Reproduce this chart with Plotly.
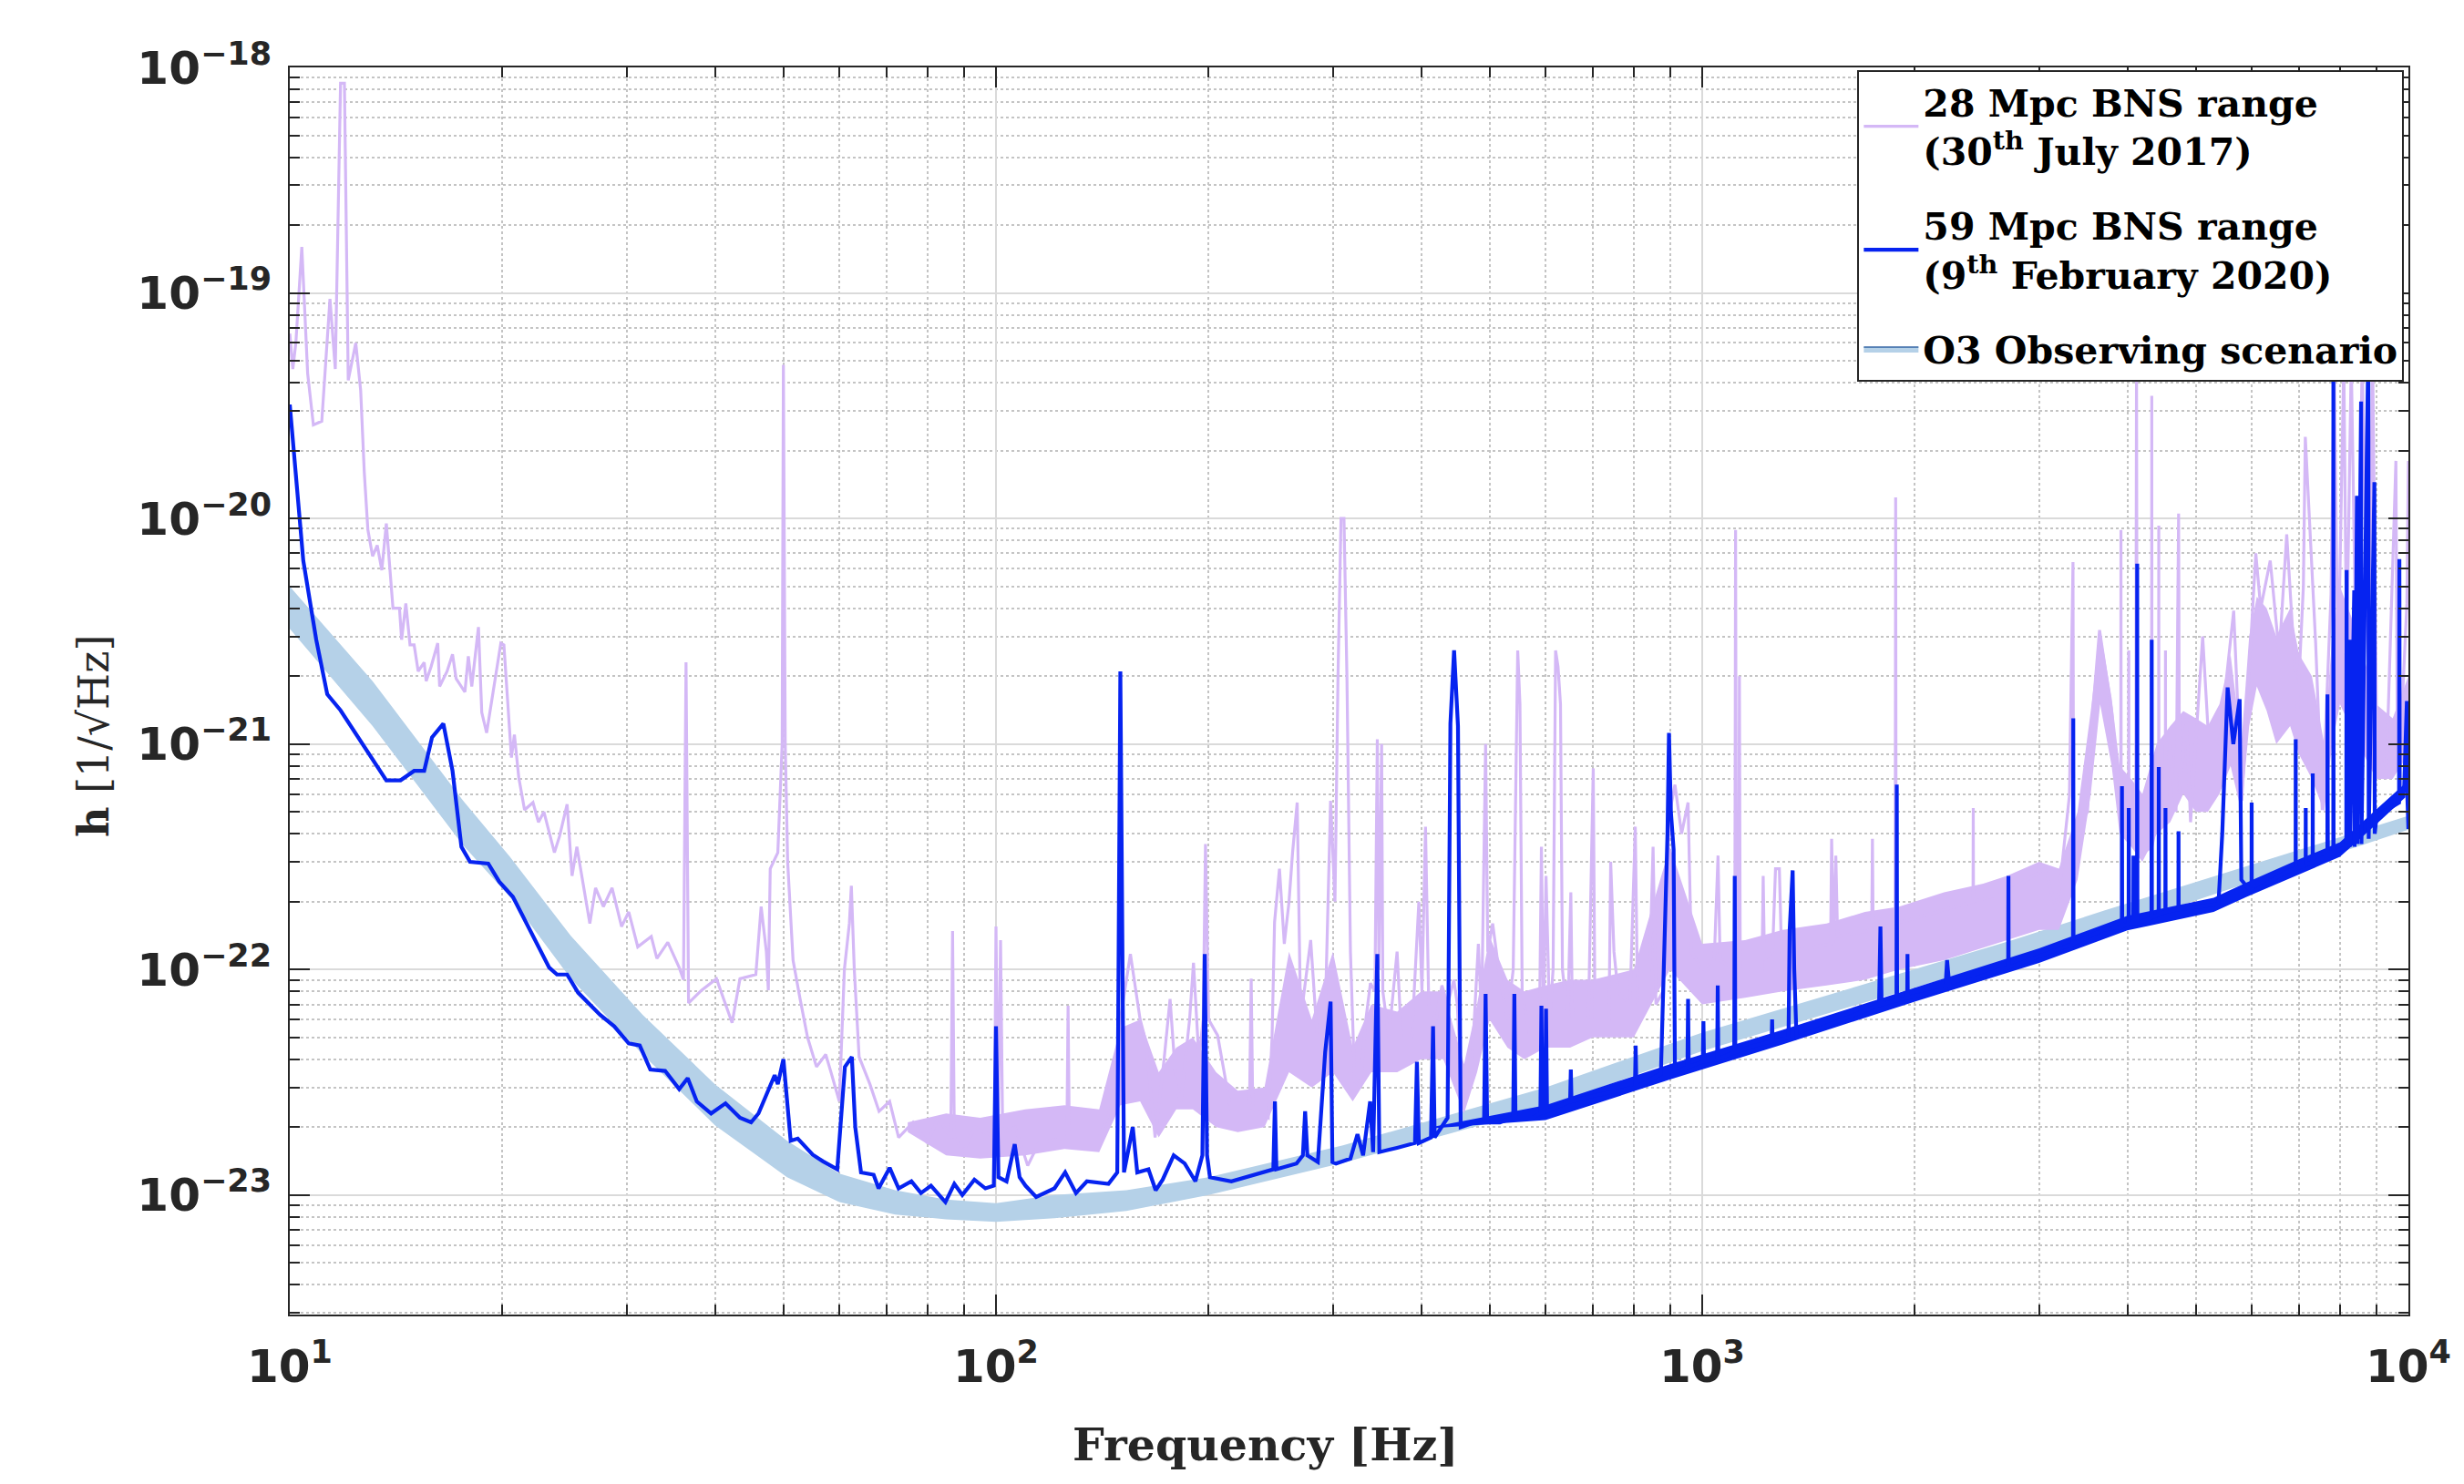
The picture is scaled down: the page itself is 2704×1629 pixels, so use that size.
import plotly.graph_objects as go

# ---------------- data ----------------
# O3 observing scenario band (frequency [Hz], upper / lower edge)
band_f = [10, 13.1, 17.6, 20.5, 25, 31.6, 40, 50.6, 60, 72, 85, 100, 121, 153, 200, 310, 600, 1000, 2750, 3700, 10000]
band_hi = [5.0e-21, 1.9e-21, 5.6e-22, 3.16e-22, 1.41e-22, 6.3e-23, 3.1e-23, 1.74e-23, 1.245e-23, 1.05e-23, 9.55e-24,
           9.2e-24, 1.0e-23, 1.05e-23, 1.2e-23, 1.66e-23, 3.0e-23, 5.25e-23, 1.35e-22, 1.82e-22, 4.8e-22]
band_lo = [3.24e-21, 1.2e-21, 3.55e-22, 2.1e-22, 9.1e-23, 4.2e-23, 2.04e-23, 1.2e-23, 9.3e-24, 8.2e-24, 7.8e-24,
           7.6e-24, 7.9e-24, 8.5e-24, 1.0e-23, 1.39e-23, 2.45e-23, 4.35e-23, 1.12e-22, 1.48e-22, 4.17e-22]

# 59 Mpc BNS range (9th February 2020)
blue_f = [10, 10.45, 10.9, 11.3, 11.8, 12.7, 13.7, 14.35, 15.0, 15.5, 15.9, 16.5, 17.0, 17.5, 18.0, 19.1, 19.8, 20.7,
          22.0, 23.3, 23.9, 24.7, 25.6, 27.5, 28.8, 30.2, 31.3, 32.4, 34.0, 35.6, 36.6, 37.7, 39.5, 41.4, 43.4, 45.0,
          46.1, 47.7, 48.6, 49.1, 50.0, 51.2, 52.4, 55.0, 56.9, 59.6, 61.1, 62.5, 63.2, 64.4, 67.1, 68.2, 70.7, 72.8,
          75.9, 78.3, 80.9, 84.8, 87.3, 89.6, 93.2, 96.6, 99.3, 100.0, 100.8, 103.5, 106.3, 108, 110.1, 114, 121,
          125.3, 129.8, 134.5, 144.3, 148.5, 149.4, 150.0, 150.7, 151.8, 156.2, 158.5, 164.4, 168.3, 172.2, 178.5,
          185, 191.6, 196, 197.5, 199, 200.9, 215.4, 231.2, 247, 248.3, 249.5, 266.4, 272, 274, 276, 285.6, 292.5,
          297.7, 299.5, 303, 317.6, 325, 331, 338.7, 342, 346.7, 349, 369.8, 392, 394.5, 397, 413, 415.8, 418, 436,
          440, 445.3, 451, 455, 476.6, 491, 493.5, 496, 517, 540, 542, 544, 575, 590, 592, 594, 599, 601, 603, 650,
          651.6, 653, 699.5, 803, 805, 807, 874, 884.6, 893, 897.3, 903, 911, 915, 953, 955, 957, 1002, 1004, 1006,
          1050, 1052, 1054, 1110, 1112, 1114, 1186, 1254, 1256, 1258, 1325, 1330, 1343, 1350, 1360, 1380, 1687,
          1780, 1788, 1795, 1884, 1886, 1888, 1951, 1953, 1955, 2210, 2222, 2240, 2636, 2712, 2714, 2716, 3350,
          3353, 3356, 3697, 3928, 3930, 3933, 4016, 4018, 4021, 4078, 4080, 4082, 4128, 4130, 4133, 4327, 4330,
          4333, 4429, 4431, 4433, 4527, 4529, 4531, 4724, 4726, 4728, 5383, 5450, 5546, 5650, 5768, 5800, 5996,
          5998, 6000, 6697, 6923, 6925, 6927, 7153, 7155, 7157, 7318, 7320, 7322, 7395, 7678, 7680, 7690, 7828,
          7830, 7835, 8166, 8175, 8185, 8255, 8265, 8380, 8390, 8455, 8465, 8570, 8580, 8775, 8785, 8950, 8960,
          9017, 9700, 9710, 9720, 9858, 9950, 9960, 10000]
blue_h = [3.2e-20, 6.5e-21, 2.9e-21, 1.66e-21, 1.41e-21, 1.0e-21, 6.9e-22, 6.9e-22, 7.6e-22, 7.6e-22, 1.07e-21,
          1.23e-21, 7.6e-22, 3.5e-22, 3.0e-22, 2.95e-22, 2.45e-22, 2.1e-22, 1.45e-22, 1.02e-22, 9.5e-23, 9.5e-23,
          7.9e-23, 6.3e-23, 5.6e-23, 4.7e-23, 4.6e-23, 3.6e-23, 3.55e-23, 2.95e-23, 3.3e-23, 2.6e-23, 2.3e-23,
          2.55e-23, 2.2e-23, 2.1e-23, 2.3e-23, 2.95e-23, 3.4e-23, 3.1e-23, 4.0e-23, 1.74e-23, 1.78e-23, 1.51e-23,
          1.41e-23, 1.3e-23, 3.7e-23, 4.1e-23, 2.0e-23, 1.26e-23, 1.23e-23, 1.07e-23, 1.32e-23, 1.07e-23, 1.15e-23,
          1.02e-23, 1.1e-23, 9.3e-24, 1.12e-23, 1.0e-23, 1.17e-23, 1.07e-23, 1.1e-23, 5.6e-23, 1.2e-23, 1.15e-23,
          1.68e-23, 1.2e-23, 1.1e-23, 9.8e-24, 1.07e-23, 1.26e-23, 1.02e-23, 1.15e-23, 1.12e-23, 1.26e-23, 3.0e-22,
          2.1e-21, 3.0e-22, 1.26e-23, 2.0e-23, 1.26e-23, 1.3e-23, 1.05e-23, 1.17e-23, 1.5e-23, 1.38e-23, 1.15e-23,
          1.5e-23, 1.17e-22, 1.5e-23, 1.2e-23, 1.15e-23, 1.23e-23, 1.3e-23, 2.6e-23, 1.3e-23, 1.38e-23, 1.5e-23,
          2.35e-23, 1.5e-23, 1.4e-23, 4.3e-23, 7.2e-23, 1.4e-23, 1.38e-23, 1.45e-23, 1.86e-23, 1.5e-23, 2.6e-23,
          1.55e-23, 1.17e-22, 1.55e-23, 1.62e-23, 1.7e-23, 3.9e-23, 1.7e-23, 1.8e-23, 5.6e-23, 1.8e-23, 2.2e-23,
          1.23e-21, 2.6e-21, 1.2e-21, 2.0e-23, 2.1e-23, 2.1e-23, 7.8e-23, 2.1e-23, 2.1e-23, 2.2e-23, 7.8e-23,
          2.2e-23, 2.2e-23, 2.3e-23, 6.9e-23, 2.3e-23, 2.35e-23, 6.7e-23, 2.35e-23, 2.6e-23, 3.6e-23, 2.6e-23,
          2.75e-23, 3.0e-23, 4.6e-23, 3.0e-23, 3.45e-23, 1.4e-22, 4e-22, 1.12e-21, 5e-22, 3.4e-22, 3.5e-23, 3.7e-23,
          7.4e-23, 3.7e-23, 3.9e-23, 5.9e-23, 3.9e-23, 4.0e-23, 8.5e-23, 4.0e-23, 4.3e-23, 2.6e-22, 4.3e-23,
          4.6e-23, 4.8e-23, 6.0e-23, 4.8e-23, 5.0e-23, 1.5e-22, 2.75e-22, 1.0e-22, 5.0e-23, 5.1e-23, 6.5e-23,
          7.0e-23, 1.55e-22, 7.0e-23, 7.3e-23, 6.6e-22, 7.3e-23, 7.5e-23, 1.17e-22, 7.5e-23, 8.2e-23, 1.1e-22,
          8.3e-23, 1.0e-22, 1.02e-22, 2.6e-22, 1.02e-22, 1.3e-22, 1.3e-21, 1.3e-22, 1.5e-22, 1.55e-22, 6.5e-22,
          1.55e-22, 1.6e-22, 5.2e-22, 1.6e-22, 1.6e-22, 3.2e-22, 1.6e-22, 1.6e-22, 6.3e-21, 1.6e-22, 1.7e-22,
          2.9e-21, 1.7e-22, 1.75e-22, 7.9e-22, 1.75e-22, 1.8e-22, 5.2e-22, 1.8e-22, 1.85e-22, 4.1e-22, 1.85e-22,
          1.95e-22, 4e-22, 1.78e-21, 1.0e-21, 1.58e-21, 2.5e-22, 2.2e-22, 5.5e-22, 2.2e-22, 2.7e-22, 2.8e-22,
          1.05e-21, 2.8e-22, 2.9e-22, 5.2e-22, 2.9e-22, 3.0e-22, 7.4e-22, 3.0e-22, 3.2e-22, 3.3e-22, 1.66e-21,
          3.3e-22, 3.3e-22, 6e-20, 3.3e-22, 3.5e-22, 5.9e-21, 3.5e-22, 2.9e-21, 3.5e-22, 4.8e-21, 3.5e-22, 1.26e-20,
          3.6e-22, 3.3e-20, 3.6e-22, 6e-20, 3.8e-22, 1.45e-20, 4.0e-22, 4.8e-22, 5.5e-22, 6.6e-21, 5.8e-22, 6.2e-22,
          1.55e-21, 6.2e-22, 4.2e-22]

# spread (noise thickness) of the 2020 curve above 420 Hz
bfz_f = [420, 600, 900, 1300, 2000, 3000, 4000, 5300, 5900, 7000, 8000, 9000, 9900]
bfz_lo = [1.98e-23, 2.15e-23, 3.25e-23, 4.65e-23, 7.2e-23, 1.07e-22, 1.49e-22, 1.8e-22, 2.1e-22, 2.65e-22, 3.16e-22,
          4.4e-22, 5.8e-22]
bfz_hi = [2.02e-23, 2.5e-23, 3.8e-23, 5.4e-23, 8.3e-23, 1.24e-22, 1.73e-22, 2.08e-22, 2.43e-22, 3.08e-22, 3.67e-22,
          5.1e-22, 6.7e-22]

# 28 Mpc BNS range (30th July 2017)
purple_f = [10.0, 10.1, 10.2, 10.4, 10.6, 10.8, 11.1, 11.4, 11.6, 11.8, 11.95, 12.1, 12.4, 12.6, 12.75, 12.9, 13.1,
            13.3, 13.5, 13.7, 14.0, 14.3, 14.4, 14.6, 14.8, 15.0, 15.2, 15.5, 15.6, 15.85, 16.2, 16.3, 16.7, 17.0,
            17.2, 17.7, 17.9, 18.1, 18.5, 18.7, 19.0, 19.4, 19.9, 20.1, 20.6, 20.8, 21.1, 21.5, 22.1, 22.5, 22.9,
            23.7, 24.1, 24.7, 25.1, 25.5, 25.9, 26.6, 27.1, 27.8, 28.6, 29.5, 30.2, 31.1, 32.5, 33.1, 34.3, 35.6,
            36.1, 36.4, 36.7, 38.3, 40.2, 42.3, 43.4, 45.7, 46.5, 47.3, 47.6, 47.9, 49.1, 49.8, 50.0, 50.3, 50.7,
            51.6, 52.8, 54.1, 55.7, 57.4, 58.4, 60.0, 61.0, 62.0, 62.4, 63.0, 64.0, 66.3, 68.3, 70.7, 72.8, 76.3,
            80.0, 82.8, 86.3, 86.8, 87.3, 90, 93.2, 99.5, 100, 100.7, 101.5, 102.2, 106.5, 110.9, 115, 126, 126.5,
            127, 140, 146, 150, 155, 160, 163, 168, 173, 176.4, 180, 182.7, 188, 190.4, 193.8, 196.5, 198, 200, 206,
            215, 228.5, 229.8, 231, 243, 246, 248, 252, 256, 260, 263, 267, 270, 279, 285, 292, 297.7, 302, 305,
            308, 311, 314, 317.6, 322, 328, 334, 339, 344, 346.7, 348.5, 351.6, 353, 360, 369.8, 375, 388, 397, 401,
            405.7, 410, 420, 428, 436, 445, 450, 456, 470, 482, 487, 493.5, 497, 505, 515, 530, 540, 548, 552, 556,
            570, 588, 592, 596, 601, 608, 615, 620, 625, 630, 634, 645, 651.6, 655, 690, 701, 705, 738, 742, 750,
            760, 790, 804, 810, 840, 852, 860, 880, 890, 900, 915, 935, 955, 965, 1000, 1040, 1053, 1060, 1112,
            1115, 1118, 1126, 1129, 1132, 1215, 1220, 1225, 1258, 1270, 1286, 1295, 1330, 1520, 1525, 1535, 1546,
            1555, 1738, 1742, 1746, 1876, 1879, 1882, 2418, 2420, 2422, 2700, 3058, 3180, 3311, 3350, 3356, 3512,
            3580, 3653, 3800, 3915, 3917, 3920, 4016, 4018, 4020, 4110, 4121, 4130, 4170, 4328, 4331, 4334, 4429,
            4431, 4433, 4527, 4529, 4531, 4596, 4688, 4727, 4740, 4850, 4915, 5113, 5200, 5400, 5657, 5808, 5998,
            6080, 6178, 6373, 6563, 6725, 6966, 7100, 7145, 7390, 7550, 7770, 7850, 7950, 8100, 8175, 8300, 8450,
            8600, 8775, 8900, 9020, 9300, 9600, 9650, 9780, 9950, 10000]
purple_h = [6.6e-20, 4.6e-20, 6.0e-20, 1.6e-19, 4.4e-20, 2.6e-20, 2.7e-20, 9.4e-20, 4.6e-20, 8.5e-19, 8.5e-19,
            4.1e-20, 6.0e-20, 3.7e-20, 1.6e-20, 8.9e-21, 6.8e-21, 7.6e-21, 5.9e-21, 9.5e-21, 4.0e-21, 4.0e-21,
            2.9e-21, 4.2e-21, 2.75e-21, 2.75e-21, 2.1e-21, 2.3e-21, 1.9e-21, 2.2e-21, 2.8e-21, 1.8e-21, 2.1e-21,
            2.5e-21, 1.95e-21, 1.7e-21, 2.45e-21, 1.8e-21, 3.3e-21, 1.38e-21, 1.12e-21, 1.7e-21, 2.8e-21, 2.75e-21,
            8.7e-22, 1.1e-21, 7.1e-22, 5.1e-22, 5.5e-22, 4.5e-22, 5.0e-22, 3.3e-22, 3.9e-22, 5.4e-22, 2.6e-22,
            3.5e-22, 2.6e-22, 1.6e-22, 2.3e-22, 1.9e-22, 2.3e-22, 1.55e-22, 1.8e-22, 1.26e-22, 1.4e-22, 1.12e-22,
            1.32e-22, 1.02e-22, 9e-23, 2.3e-21, 7.1e-23, 8.1e-23, 9.1e-23, 5.8e-23, 9.1e-23, 9.5e-23, 1.9e-22,
            1.2e-22, 8.1e-23, 2.8e-22, 3.3e-22, 1.0e-21, 4.8e-20, 1.0e-21, 3.0e-22, 1.1e-22, 7.4e-23, 5.0e-23,
            3.7e-23, 4.2e-23, 3.5e-23, 2.6e-23, 1.0e-22, 1.6e-22, 2.35e-22, 1.0e-22, 4.1e-23, 3.1e-23, 2.35e-23,
            2.6e-23, 1.8e-23, 2.1e-23, 1.7e-23, 2.2e-23, 1.8e-23, 1.48e-22, 1.8e-23, 1.55e-23, 2.0e-23, 1.8e-23,
            1.55e-22, 1.9e-23, 1.35e-22, 1.9e-23, 2.0e-23, 1.35e-23, 1.7e-23, 1.8e-23, 6.9e-23, 1.8e-23, 1.8e-23,
            2.5e-23, 6e-23, 1.17e-22, 6e-23, 4.8e-23, 1.8e-23, 4e-23, 7.4e-23, 3e-23, 2.6e-23, 6e-23, 1.07e-22,
            4e-23, 6e-23, 3.6e-22, 6e-23, 5.1e-23, 2.4e-23, 2.4e-23, 9.1e-23, 2.4e-23, 2.2e-23, 5e-23, 1.62e-22,
            2.8e-22, 1.3e-22, 2e-22, 3.3e-22, 5.5e-22, 6e-23, 1.35e-22, 5e-23, 5e-23, 5.6e-22, 2e-22, 2e-21, 1e-20,
            1e-20, 2e-21, 1.2e-22, 3.2e-23, 3.0e-23, 6e-23, 8.7e-23, 8e-23, 1.05e-21, 1e-22, 1.0e-21, 8e-23, 5e-23,
            1.2e-22, 5e-23, 5e-23, 2.0e-22, 8e-23, 4.3e-22, 7e-23, 6e-23, 8.5e-23, 7e-23, 9e-23, 7e-23, 3e-23,
            3e-23, 1.3e-22, 6e-23, 1.0e-21, 1.2e-22, 1.6e-22, 1.0e-22, 6e-23, 1e-22, 2.6e-21, 1.5e-21, 8e-23,
            5e-23, 5e-23, 3.5e-22, 6e-23, 2.6e-22, 6e-23, 1.0e-22, 2.6e-21, 2.2e-21, 1.5e-21, 1.0e-22, 6e-23,
            2.2e-22, 6e-23, 6e-23, 7.8e-22, 6e-23, 6e-23, 3e-22, 1.2e-22, 8e-23, 7e-23, 4.3e-22, 7e-23, 7e-23,
            3.5e-22, 7e-23, 8e-23, 2.5e-22, 5e-22, 6.6e-22, 4e-22, 5.5e-22, 1.2e-22, 1.0e-22, 1.1e-22, 3.2e-22,
            1.1e-22, 1.0e-22, 8.9e-21, 1.0e-22, 1.0e-22, 2.0e-21, 1.0e-22, 1.0e-22, 2.6e-22, 1.1e-22, 1.2e-22,
            2.8e-22, 2.8e-22, 1.2e-22, 1.2e-22, 1.3e-22, 3.8e-22, 1.3e-22, 3.2e-22, 1.4e-22, 1.5e-22, 3.8e-22,
            1.5e-22, 1.6e-22, 1.24e-20, 1.6e-22, 2.0e-22, 5.2e-22, 2.0e-22, 2.2e-22, 2.8e-22, 1.8e-22, 5.9e-22,
            6.4e-21, 4e-22, 5e-22, 1.5e-21, 3.2e-21, 1.4e-21, 4.8e-22, 8.9e-21, 4.8e-22, 4.5e-22, 2.6e-21, 4.5e-22,
            4.5e-22, 5e-20, 4e-22, 3.2e-22, 3.5e-22, 3.5e-20, 3.5e-22, 5e-22, 9.3e-21, 5e-22, 5e-22, 2.6e-21, 5e-22,
            1.0e-21, 5e-22, 1.05e-20, 6e-22, 1.3e-21, 4.5e-22, 3.0e-21, 1.2e-21, 1.0e-21, 3.9e-21, 5.6e-22, 3.5e-21,
            7e-21, 4e-21, 6.5e-21, 2.5e-21, 8.5e-21, 1.4e-21, 5e-21, 2.3e-20, 2.8e-21, 5.1e-22, 4.6e-21, 5e-20,
            2e-21, 5e-20, 2.5e-21, 5e-20, 1.5e-21, 5e-20, 2e-21, 5e-20, 1.0e-21, 7e-22, 1.8e-20, 8e-22, 1.3e-21,
            4.2e-21, 1.8e-20]

# spread (noise thickness) of the 2017 curve above 75 Hz
pfz_f = [75, 85, 95, 110, 125, 140, 150, 160, 170, 180, 190, 205, 220, 240, 260, 280, 300, 320, 340, 370, 400, 430,
         460, 480, 500, 530, 560, 600, 650, 700, 800, 900, 1000, 1150, 1300, 1500, 1700, 1900, 2200, 2500, 2700,
         3000, 3200, 3400, 3550, 3660, 3800, 3900, 4050, 4200, 4400, 4600, 4800, 5000, 5200, 5400, 5600, 5800,
         5950, 6100, 6300, 6500, 6800, 7000, 7300, 7600, 7800, 8000, 8500, 9000, 9500, 10000]
pfz_lo = [1.9e-23, 1.5e-23, 1.45e-23, 1.5e-23, 1.6e-23, 1.55e-23, 2.5e-23, 2.6e-23, 1.8e-23, 2.4e-23, 2.4e-23,
          2.0e-23, 1.9e-23, 2.0e-23, 3.5e-23, 3.0e-23, 3.5e-23, 2.6e-23, 3.5e-23, 3.5e-23, 4e-23, 4e-23, 2.3e-23,
          3.5e-23, 6e-23, 4.5e-23, 4.0e-23, 4.5e-23, 4.5e-23, 5e-23, 5e-23, 1.0e-22, 7e-23, 7.5e-23, 8e-23, 8.5e-23,
          9e-23, 1.0e-22, 1.1e-22, 1.25e-22, 1.35e-22, 1.5e-22, 1.5e-22, 2.5e-22, 6e-22, 1.5e-21, 8e-22, 4e-22,
          3.5e-22, 3e-22, 4e-22, 4.5e-22, 6e-22, 5e-22, 5e-22, 6e-22, 8e-22, 5e-22, 1.2e-21, 1.8e-21, 1.4e-21,
          1.0e-21, 1.2e-21, 9e-22, 7e-22, 5e-22, 1.0e-21, 1.5e-21, 1.0e-21, 7e-22, 7e-22, 9e-22]
pfz_hi = [2.1e-23, 2.3e-23, 2.2e-23, 2.4e-23, 2.5e-23, 2.4e-23, 5.5e-23, 6e-23, 3.5e-23, 4.5e-23, 5e-23, 3.5e-23,
          2.9e-23, 3.0e-23, 1.2e-22, 6e-23, 1.2e-22, 4.5e-23, 7e-23, 6.5e-23, 8e-23, 8e-23, 3.8e-23, 7e-23, 1.4e-22,
          9e-23, 8e-23, 8.5e-23, 9e-23, 9e-23, 1.0e-22, 3.5e-22, 1.3e-22, 1.35e-22, 1.5e-22, 1.6e-22, 1.8e-22,
          1.9e-22, 2.2e-22, 2.4e-22, 2.6e-22, 3.0e-22, 2.8e-22, 5e-22, 1.4e-21, 3.2e-21, 1.6e-21, 8e-22, 7e-22,
          6e-22, 1.0e-21, 1.2e-21, 1.4e-21, 1.3e-21, 1.2e-21, 1.5e-21, 2.5e-21, 1.0e-21, 3e-21, 4.5e-21, 4e-21,
          3e-21, 4e-21, 2.5e-21, 2e-21, 1e-21, 3e-21, 5e-21, 3e-21, 1.5e-21, 1.3e-21, 2e-21]

series_names = ["28 Mpc BNS range<br>(30<sup>th</sup> July 2017)",
                "59 Mpc BNS range<br>(9<sup>th</sup> February 2020)",
                "O3 Observing scenario"]

# ---------------- styling ----------------
PURPLE = "#d4b8f6"
BLUE = "#0623f0"
BAND = "#b5d1e8"
INK = "#262626"

fig = go.Figure()

fig.add_trace(go.Scatter(x=band_f + band_f[::-1], y=band_hi + band_lo[::-1], fill="toself",
                         fillcolor=BAND, line=dict(width=0), mode="lines", showlegend=False,
                         hoverinfo="skip"))
fig.add_trace(go.Scatter(x=pfz_f + pfz_f[::-1], y=pfz_hi + pfz_lo[::-1], fill="toself",
                         fillcolor=PURPLE, line=dict(width=0), mode="lines", showlegend=False,
                         hoverinfo="skip"))
fig.add_trace(go.Scatter(x=purple_f, y=purple_h, mode="lines", name=series_names[0],
                         line=dict(color=PURPLE, width=3.2), legendgroup="a", legendrank=1))
fig.add_trace(go.Scatter(x=bfz_f + bfz_f[::-1], y=bfz_hi + bfz_lo[::-1], fill="toself",
                         fillcolor=BLUE, line=dict(width=0), mode="lines", showlegend=False,
                         hoverinfo="skip"))
fig.add_trace(go.Scatter(x=blue_f, y=blue_h, mode="lines", name=series_names[1],
                         line=dict(color=BLUE, width=4.2), legendgroup="b", legendrank=2))
fig.add_trace(go.Scatter(x=[None], y=[None], mode="lines", fill="toself", fillcolor=BAND,
                         line=dict(color="#3465a4", width=1.5), name=series_names[2],
                         legendgroup="c", legendrank=3))

axis_common = dict(
    type="log", tickmode="linear", tick0=0, dtick=1,
    exponentformat="power", showexponent="all",
    ticks="inside", ticklen=22, tickwidth=2, tickcolor=INK,
    showline=True, linecolor=INK, linewidth=2, mirror="allticks",
    showgrid=True, gridcolor="#dadada", gridwidth=1.5, zeroline=False,
    tickfont=dict(family="DejaVu Sans", size=40, color=INK, weight="bold"),
    minor=dict(dtick="D1", ticks="inside", ticklen=11, tickwidth=1.5, tickcolor=INK,
               showgrid=True, gridcolor="#c4c4c4", griddash="dot", gridwidth=1.5),
)

fig.update_xaxes(range=[1, 4], ticklabelstandoff=14, labelalias={"10": "10<sup>1</sup>"}, **axis_common)
fig.update_yaxes(range=[-23.53, -18], ticklabelstandoff=10, **axis_common)

fig.update_layout(
    width=2704, height=1629,
    margin=dict(l=310, r=69, t=66, b=194),
    paper_bgcolor="white", plot_bgcolor="white",
    showlegend=True,
    legend=dict(x=0.998, y=0.998, xanchor="right", yanchor="top",
                bgcolor="white", bordercolor=INK, borderwidth=2,
                font=dict(family="DejaVu Serif", size=41, color="black", weight="bold"),
                tracegroupgap=26, itemwidth=60, traceorder="grouped"),
    annotations=[
        dict(text="<b>Frequency [Hz]</b>", xref="paper", yref="paper", x=0.4606, y=-0.1045,
             showarrow=False, xanchor="center", yanchor="middle",
             font=dict(family="DejaVu Serif", size=49, color=INK)),
        dict(text="<b>h</b> [1/√Hz]", xref="paper", yref="paper", x=-0.0925, y=0.4638,
             showarrow=False, xanchor="center", yanchor="middle", textangle=-90,
             font=dict(family="DejaVu Serif", size=46, color=INK)),
    ],
)

fig.write_html("out.html")
